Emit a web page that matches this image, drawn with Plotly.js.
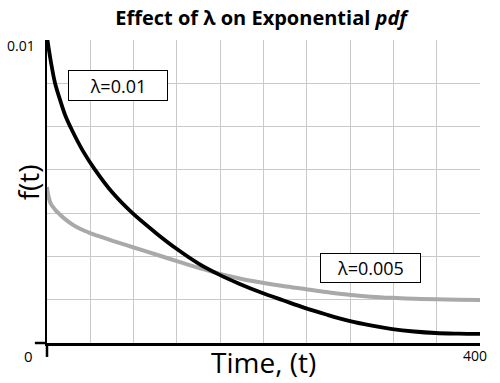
<!DOCTYPE html>
<html>
<head>
<meta charset="utf-8">
<script src="https://cdn.plot.ly/plotly-3.0.1.min.js"></script>
<style>html,body{margin:0;padding:0;background:#fff;}#chart{width:500px;height:383px;}</style>
</head>
<body>
<div id="chart"></div>
<script>
// Data
var timeBlack = [0, 3.5, 7.4, 12, 17, 23, 33, 44.3, 60, 78.5, 100, 120, 140, 160, 178, 199, 218, 238, 258, 279, 299, 319, 339, 359, 380, 400];
var fBlack    = [0.0101, 0.0093, 0.00858, 0.00803, 0.00750, 0.00703, 0.00635, 0.00572, 0.00498, 0.00430, 0.00365, 0.00310, 0.00262, 0.00224, 0.00195, 0.00165, 0.00141, 0.00116, 0.00094, 0.00073, 0.00058, 0.00046, 0.00038, 0.00033, 0.00031, 0.00030];
var timeGray  = [0, 0.8, 2, 3.5, 5.5, 8, 12, 17, 24, 31, 39.7, 50, 60, 79.4, 100, 120, 140, 160, 178, 199, 218, 238, 258, 279, 299, 319, 339, 359, 380, 400];
var fGray     = [0.00515, 0.00495, 0.00475, 0.00460, 0.00449, 0.00438, 0.00424, 0.00408, 0.00390, 0.00376, 0.00363, 0.00350, 0.00338, 0.00316, 0.00293, 0.00270, 0.00248, 0.00228, 0.00213, 0.00199, 0.00188, 0.00178, 0.00168, 0.00159, 0.00153, 0.00149, 0.00146, 0.00144, 0.00143, 0.00142];
var seriesLabels = ['λ=0.01', 'λ=0.005'];
var xTickLabel = '400';
var yTickLabel = '0.01';
var originLabel = '0';
var xMax = 400, yMax = 0.01;
var xGridStep = 40, yGridCount = 7;

var yGrid = [];
for (var i = 0; i <= yGridCount; i++) yGrid.push(i / yGridCount * yMax);
var xGrid = [];
for (var j = 0; j <= xMax / xGridStep; j++) xGrid.push(j * xGridStep);

var font = 'Open Sans, Noto Sans, sans-serif';

var traces = [
  {x: timeGray, y: fGray, mode: 'lines', line: {color: '#a9a9a9', width: 4, shape: 'spline', smoothing: 1}, hoverinfo: 'none'},
  {x: timeBlack, y: fBlack, mode: 'lines', line: {color: '#000000', width: 3.8, shape: 'spline', smoothing: 1}, hoverinfo: 'none'}
];

var layout = {
  width: 500, height: 383,
  margin: {l: 47, r: 20, t: 40, b: 40},
  paper_bgcolor: '#ffffff', plot_bgcolor: '#ffffff',
  showlegend: false,
  font: {family: font, color: '#000'},
  title: {text: '<b>Effect of λ on Exponential <i>pdf</i></b>', font: {family: font, size: 20, color: '#000'}, x: 0.522, xanchor: 'center', y: 0.953, yanchor: 'middle'},
  xaxis: {range: [0, xMax], tickmode: 'array', tickvals: xGrid, showticklabels: false, ticks: '',
          showgrid: true, gridcolor: '#c9c9c9', gridwidth: 1, zeroline: false,
          showline: true, linecolor: '#000', linewidth: 2.5, fixedrange: true},
  yaxis: {range: [0, yMax], tickmode: 'array', tickvals: yGrid, showticklabels: false, ticks: '',
          showgrid: true, gridcolor: '#c9c9c9', gridwidth: 1, zeroline: false,
          showline: true, linecolor: '#000', linewidth: 2.5, fixedrange: true},
  shapes: [
    {type: 'line', xref: 'paper', yref: 'paper', x0: -0.028, x1: 0, y0: 0, y1: 0, line: {color: '#000', width: 2.5}},
    {type: 'line', xref: 'paper', yref: 'paper', x0: 0, x1: 0, y0: 0, y1: -0.046, line: {color: '#000', width: 2.5}}
  ],
  annotations: [
    {text: seriesLabels[0], xref: 'x', yref: 'y', x: 65.6, y: 0.0085, showarrow: false, font: {family: font, size: 18, color: '#000'},
     bgcolor: '#fff', bordercolor: '#000', borderwidth: 1, borderpad: 0, width: 98, height: 29},
    {text: seriesLabels[1], xref: 'x', yref: 'y', x: 298.8, y: 0.002475, showarrow: false, font: {family: font, size: 18, color: '#000'},
     bgcolor: '#fff', bordercolor: '#000', borderwidth: 1, borderpad: 0, width: 99, height: 28},
    {text: 'f(t)', xref: 'paper', yref: 'paper', x: -0.044, y: 0.53, xanchor: 'center', yanchor: 'middle', textangle: -90, showarrow: false, font: {family: font, size: 28, color: '#000'}},
    {text: 'Time, (t)', xref: 'paper', yref: 'paper', x: 0.5, y: -0.063, xanchor: 'center', yanchor: 'middle', showarrow: false, font: {family: font, size: 28, color: '#000'}},
    {text: yTickLabel, xref: 'paper', yref: 'paper', x: -0.06, y: 0.982, xanchor: 'center', yanchor: 'middle', showarrow: false, font: {family: font, size: 14, color: '#000'}},
    {text: originLabel, xref: 'paper', yref: 'paper', x: -0.042, y: -0.043, xanchor: 'center', yanchor: 'middle', showarrow: false, font: {family: font, size: 15, color: '#000'}},
    {text: xTickLabel, xref: 'paper', yref: 'paper', x: 0.989, y: -0.04, xanchor: 'center', yanchor: 'middle', showarrow: false, font: {family: font, size: 14, color: '#000'}}
  ]
};

Plotly.newPlot('chart', traces, layout, {staticPlot: true, displayModeBar: false});
</script>
</body>
</html>
